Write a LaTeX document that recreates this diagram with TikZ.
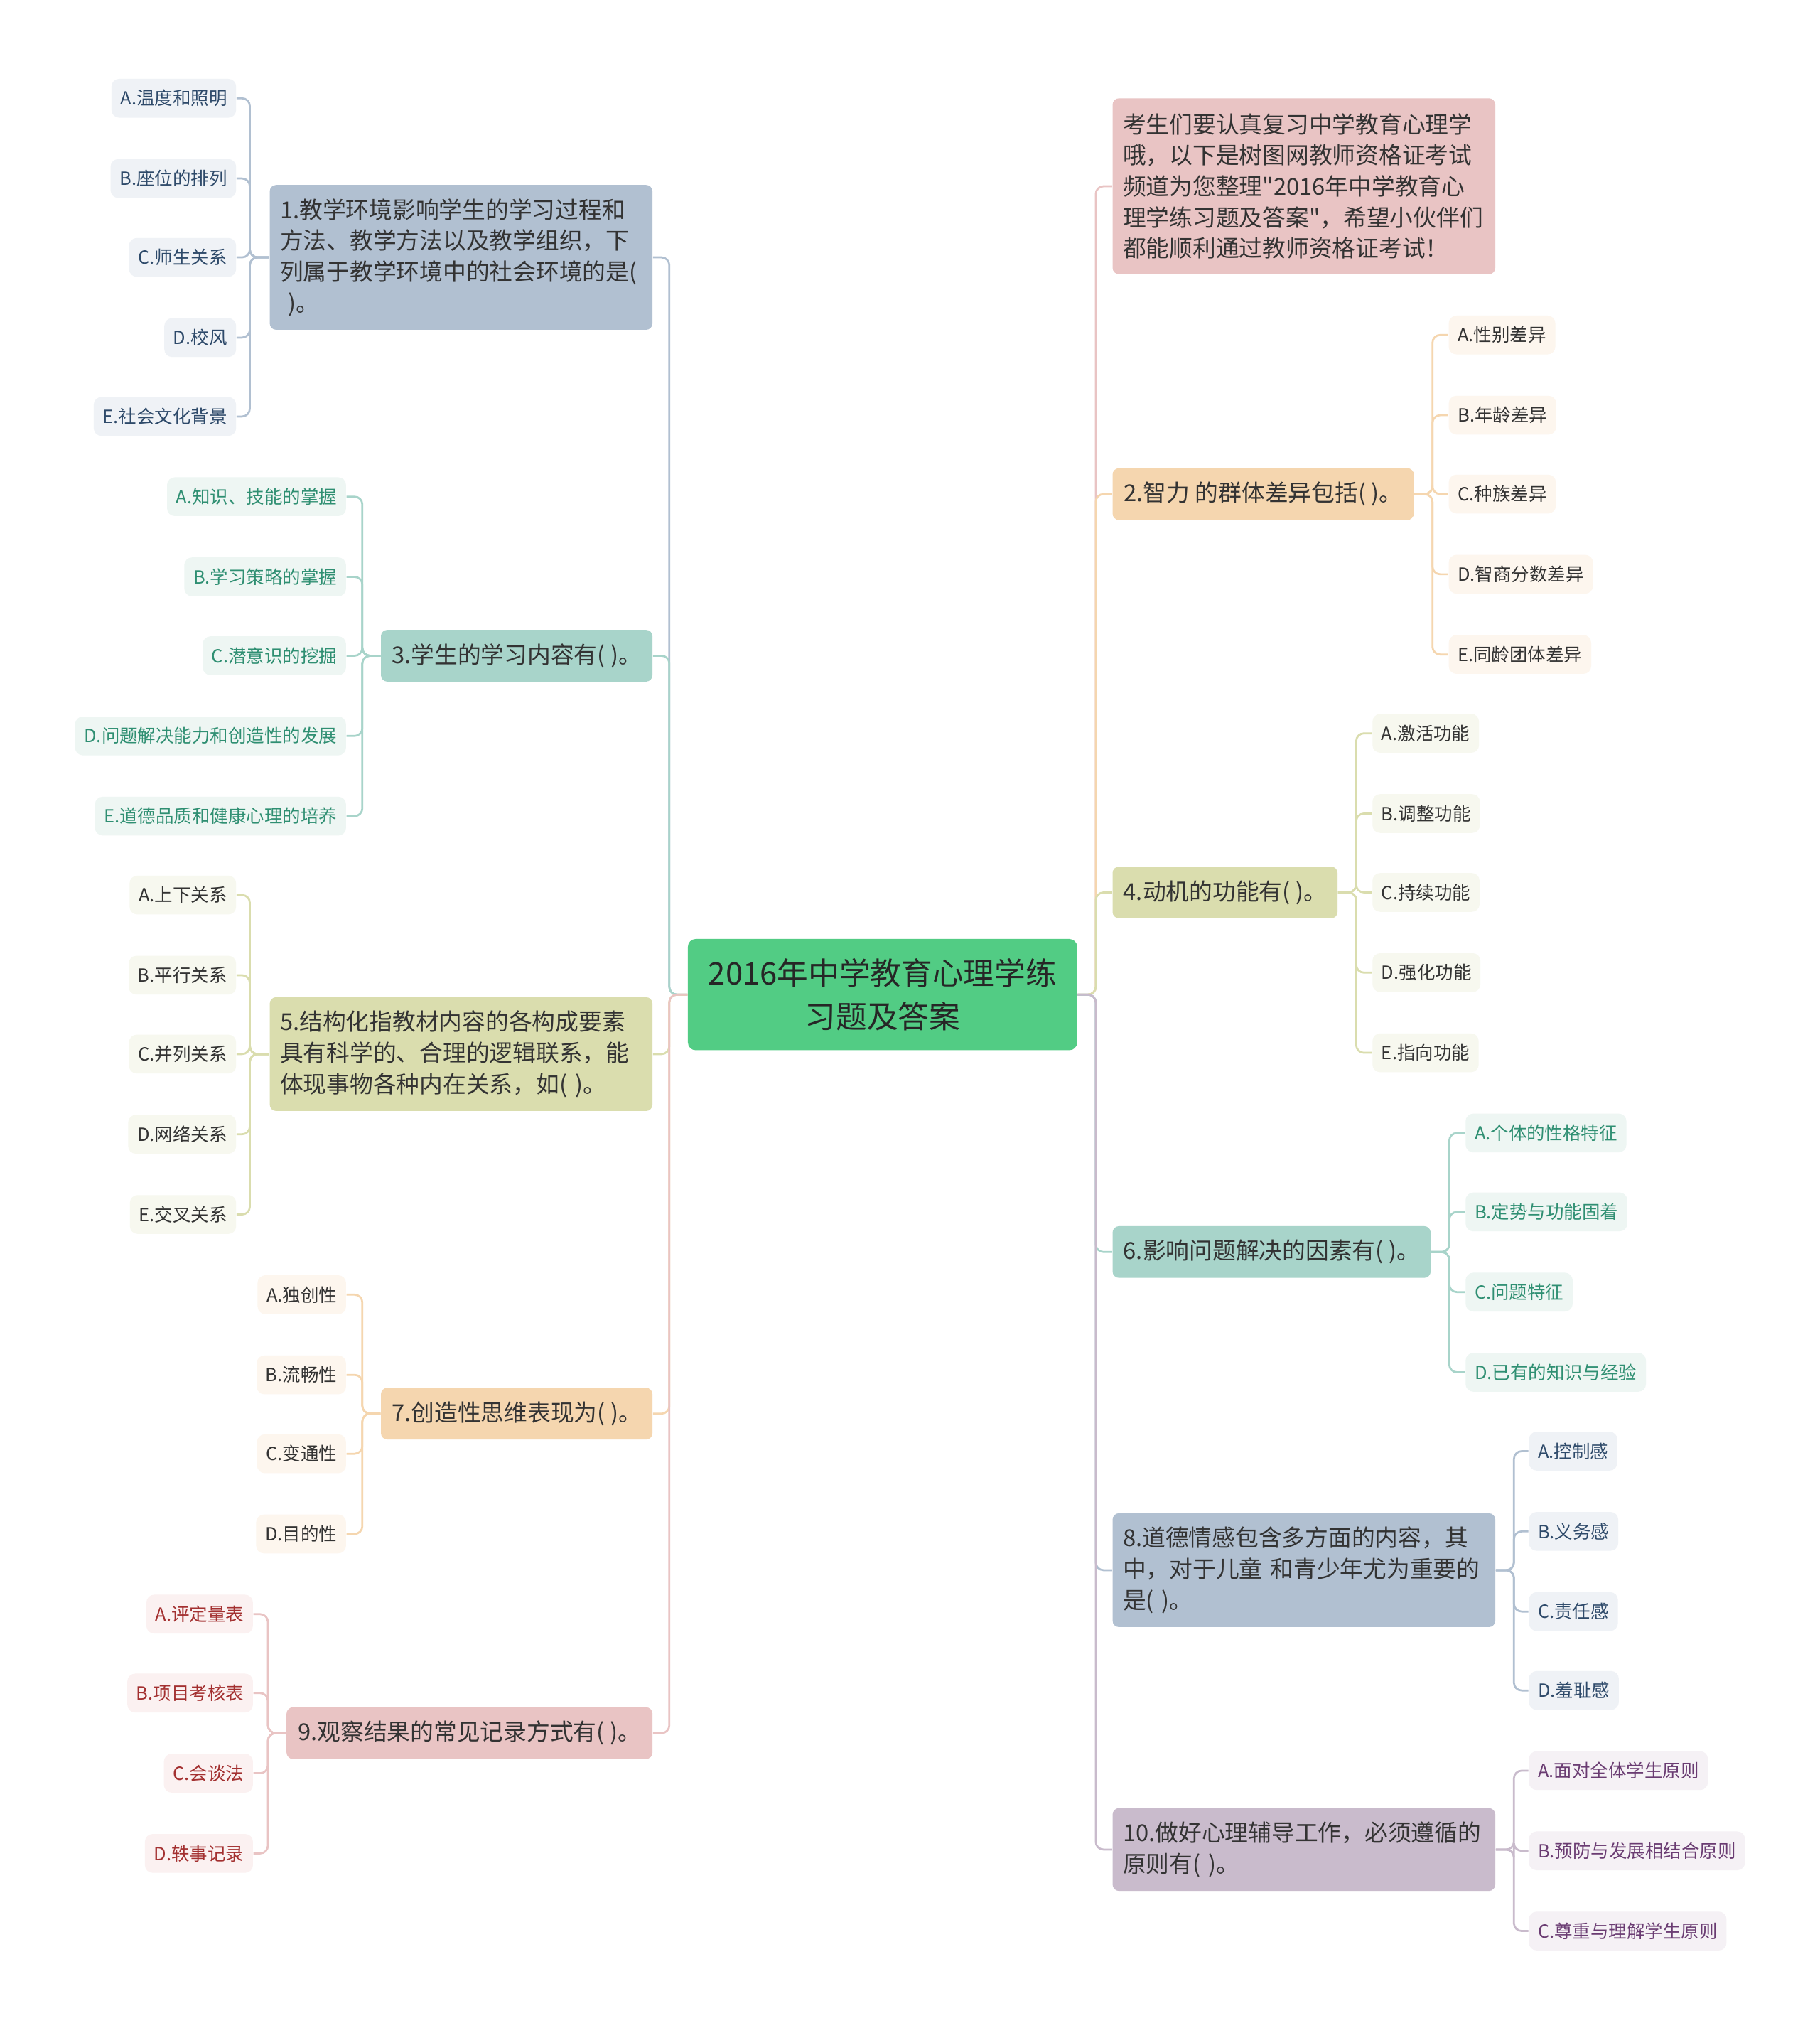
\documentclass[tikz,border=0pt]{standalone}
\usepackage{fontspec}
\newfontfamily\zhfont{Noto Sans CJK SC}
\setlength{\parindent}{0pt}

\definecolor{rootg}{HTML}{52CC84}
\definecolor{pinkm}{HTML}{E9C4C4}
\definecolor{peachm}{HTML}{F5D6AF}
\definecolor{olivem}{HTML}{DADDAE}
\definecolor{tealm}{HTML}{A8D4CA}
\definecolor{bluem}{HTML}{B1C0D1}
\definecolor{purplem}{HTML}{C9BBCC}
\definecolor{pinkl}{HTML}{FBF1F1}
\definecolor{peachl}{HTML}{FDF6EE}
\definecolor{olivel}{HTML}{F7F8EF}
\definecolor{teall}{HTML}{EEF6F3}
\definecolor{bluel}{HTML}{EFF2F6}
\definecolor{purplel}{HTML}{F5F1F5}
\definecolor{bluet}{HTML}{2E4A6A}
\definecolor{tealt}{HTML}{2F8F72}
\definecolor{redt}{HTML}{A33030}
\definecolor{purplet}{HTML}{6A3C72}
\definecolor{darkt}{HTML}{333333}

\tikzset{
    topic/.style={rounded corners=2.5pt, inner xsep=4pt, inner ysep=0pt, minimum height=20pt,
        align=left, text=darkt, font=\zhfont\fontsize{9pt}{12pt}\selectfont},
    leaf/.style={rounded corners=3pt, inner xsep=3.5pt, inner ysep=0pt, minimum height=15pt,
        text=darkt, font=\zhfont\fontsize{7pt}{9pt}\selectfont},
    link/.style={line width=0.75pt, rounded corners=3pt},
}

\begin{document}
\begin{tikzpicture}[x=0.5pt, y=-0.5pt]

        \path[use as bounding box, fill=white] (0,0) rectangle (1407,1568);

        \node[rounded corners=3pt, fill=rootg, minimum width=150.5pt, minimum height=43pt, align=center,
            text=black!85, font=\zhfont\fontsize{12pt}{16.5pt}\selectfont] (root) at (682.5,769)
            {2016年中学教育心理学练\\习题及答案};

        % right side
        \node[topic, fill=pinkm, anchor=west, text width=140pt, minimum height=68pt] (t0) at (860,144)
            {考生们要认真复习中学教育心理学\\哦，以下是树图网教师资格证考试\\频道为您整理"2016年中学教育心\\理学练习题及答案"，希望小伙伴们\\都能顺利通过教师资格证考试！};
        \node[topic, fill=peachm, anchor=west, minimum width=116.5pt] (t2) at (860,382) {2.智力 的群体差异包括(~)。};
        \node[topic, fill=olivem, anchor=west, minimum width=87pt] (t4) at (860,690) {4.动机的功能有(~)。};
        \node[topic, fill=tealm, anchor=west, minimum width=123pt] (t6) at (860,968) {6.影响问题解决的因素有(~)。};
        \node[topic, fill=bluem, anchor=west, text width=140pt, minimum height=44pt] (t8) at (860,1214)
            {8.道德情感包含多方面的内容，其\\中，对于儿童 和青少年尤为重要的\\是(~)。};
        \node[topic, fill=purplem, anchor=west, text width=140pt, minimum height=32pt] (t10) at (860,1430)
            {10.做好心理辅导工作，必须遵循的\\原则有(~)。};

        % left side
        \node[topic, fill=bluem, anchor=east, text width=140pt, minimum height=56pt] (t1) at (505,199)
            {1.教学环境影响学生的学习过程和\\方法、教学方法以及教学组织，下\\列属于教学环境中的社会环境的是(\\~)。};
        \node[topic, fill=tealm, anchor=east, minimum width=105pt] (t3) at (505,507) {3.学生的学习内容有(~)。};
        \node[topic, fill=olivem, anchor=east, text width=140pt, minimum height=44pt] (t5) at (505,815)
            {5.结构化指教材内容的各构成要素\\具有科学的、合理的逻辑联系，能\\体现事物各种内在关系，如(~)。};
        \node[topic, fill=peachm, anchor=east, minimum width=105pt] (t7) at (505,1093) {7.创造性思维表现为(~)。};
        \node[topic, fill=pinkm, anchor=east, minimum width=141.5pt] (t9) at (505,1340) {9.观察结果的常见记录方式有(~)。};

        \foreach \t/\c in {t0/pinkm, t2/peachm, t4/olivem, t6/tealm, t8/bluem, t10/purplem}{
            \draw[link, \c] (root.east) -- ++(14,0) |- (\t.west);
        }
        \foreach \t/\c in {t1/bluem, t3/tealm, t5/olivem, t7/peachm, t9/pinkm}{
            \draw[link, \c] (root.west) -- ++(-14,0) |- (\t.east);
        }

        \foreach \n/\y/\s in {a/76/A.温度和照明, b/138/B.座位的排列, c/199/C.师生关系, d/261/D.校风, e/322/E.社会文化背景}{
            \node[leaf, fill=bluel, text=bluet, anchor=east] (t1\n) at (183,\y) {\s};
            \draw[link, bluem] (t1.west) -- ++(-15,0) |- (t1\n.east);
        }
        \foreach \n/\y/\s in {a/384/A.知识、技能的掌握, b/446/B.学习策略的掌握, c/507/C.潜意识的挖掘, d/569/D.问题解决能力和创造性的发展, e/631/E.道德品质和健康心理的培养}{
            \node[leaf, fill=teall, text=tealt, anchor=east] (t3\n) at (268,\y) {\s};
            \draw[link, tealm] (t3.west) -- ++(-14,0) |- (t3\n.east);
        }
        \foreach \n/\y/\s in {a/692/A.上下关系, b/754/B.平行关系, c/815/C.并列关系, d/877/D.网络关系, e/939/E.交叉关系}{
            \node[leaf, fill=olivel, anchor=east] (t5\n) at (183,\y) {\s};
            \draw[link, olivem] (t5.west) -- ++(-15,0) |- (t5\n.east);
        }
        \foreach \n/\y/\s in {a/1001/A.独创性, b/1063/B.流畅性, c/1124/C.变通性, d/1186/D.目的性}{
            \node[leaf, fill=peachl, anchor=east] (t7\n) at (268,\y) {\s};
            \draw[link, peachm] (t7.west) -- ++(-14,0) |- (t7\n.east);
        }
        \foreach \n/\y/\s in {a/1248/A.评定量表, b/1309/B.项目考核表, c/1371/C.会谈法, d/1433/D.轶事记录}{
            \node[leaf, fill=pinkl, text=redt, anchor=east] (t9\n) at (196,\y) {\s};
            \draw[link, pinkm] (t9.west) -- ++(-14,0) |- (t9\n.east);
        }

        \foreach \n/\y/\s in {a/259/A.性别差异, b/321/B.年龄差异, c/382/C.种族差异, d/444/D.智商分数差异, e/506/E.同龄团体差异}{
            \node[leaf, fill=peachl, anchor=west] (t2\n) at (1120,\y) {\s};
            \draw[link, peachm] (t2.east) -- ++(14,0) |- (t2\n.west);
        }
        \foreach \n/\y/\s in {a/567/A.激活功能, b/629/B.调整功能, c/690/C.持续功能, d/752/D.强化功能, e/814/E.指向功能}{
            \node[leaf, fill=olivel, anchor=west] (t4\n) at (1061,\y) {\s};
            \draw[link, olivem] (t4.east) -- ++(14,0) |- (t4\n.west);
        }
        \foreach \n/\y/\s in {a/876/A.个体的性格特征, b/937/B.定势与功能固着, c/999/C.问题特征, d/1061/D.已有的知识与经验}{
            \node[leaf, fill=teall, text=tealt, anchor=west] (t6\n) at (1133,\y) {\s};
            \draw[link, tealm] (t6.east) -- ++(14,0) |- (t6\n.west);
        }
        \foreach \n/\y/\s in {a/1122/A.控制感, b/1184/B.义务感, c/1246/C.责任感, d/1307/D.羞耻感}{
            \node[leaf, fill=bluel, text=bluet, anchor=west] (t8\n) at (1182,\y) {\s};
            \draw[link, bluem] (t8.east) -- ++(14,0) |- (t8\n.west);
        }
        \foreach \n/\y/\s in {a/1369/A.面对全体学生原则, b/1431/B.预防与发展相结合原则, c/1493/C.尊重与理解学生原则}{
            \node[leaf, fill=purplel, text=purplet, anchor=west] (t10\n) at (1182,\y) {\s};
            \draw[link, purplem] (t10.east) -- ++(14,0) |- (t10\n.west);
        }

\end{tikzpicture}
\end{document}
